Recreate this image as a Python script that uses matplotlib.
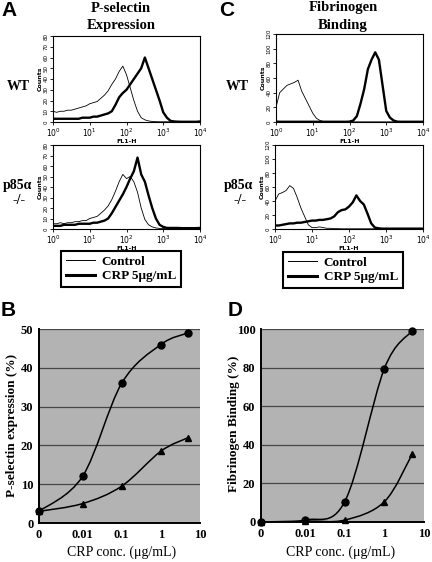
import numpy as np
import matplotlib
matplotlib.use("Agg")
import matplotlib.pyplot as plt
from matplotlib.path import Path
from matplotlib.patches import PathPatch
from matplotlib.lines import Line2D

SERIF = ["Liberation Serif", "DejaVu Serif"]
SANS = ["Liberation Sans", "DejaVu Sans"]

# -----------------------------------
# Flow cytometry histograms (FL1-H, 0.1 decade steps from 10^0 to 10^4)
# -----------------------------------
decades = np.round(np.arange(0, 4.01, 0.1), 1)

a_wt_control = [10, 9, 10, 10, 11, 11, 12, 13, 14, 15, 17,
                18, 19, 22, 25, 29, 35, 40, 47, 52, 44,
                32, 20, 10, 4, 2, 1, 0.5, 0.3, 0.2, 0.2,
                0.2, 0.2, 0.2, 0.2, 0.2, 0.2, 0.2, 0.2, 0.2, 0.2]
a_wt_crp = [3, 3, 3, 3, 3, 3, 3, 3, 4, 4, 4,
            5, 5, 6, 7, 8, 10, 16, 23, 27, 30,
            35, 40, 45, 50, 60, 50, 40, 30, 20, 9,
            4, 1, 0.5, 0.3, 0.2, 0.2, 0.2, 0.2, 0.2, 0.5]
a_ko_control = [5, 5, 6, 5, 6, 6, 7, 7, 8, 8, 10,
                11, 12, 15, 18, 22, 28, 36, 45, 52, 48,
                50, 45, 35, 20, 9, 4, 2, 1, 0.5, 0.5,
                0.3, 0.3, 0.3, 0.3, 0.3, 0.3, 0.3, 0.3, 0.3, 0.3]
a_ko_crp = [3, 3, 3, 4, 4, 4, 4, 5, 5, 5, 5,
            6, 6, 7, 8, 10, 15, 21, 27, 33, 40,
            48, 55, 68, 52, 45, 32, 20, 10, 4, 2,
            1, 1, 1, 1, 0.8, 0.8, 0.8, 0.8, 0.8, 1]

c_wt_control = [20, 40, 45, 50, 52, 54, 57, 42, 32, 22, 12,
                5, 2, 0.5, 0.3, 0.2, 0.2, 0.2, 0.2, 0.2, 0.2,
                0.2, 0.2, 0.2, 0.2, 0.2, 0.2, 0.2, 0.2, 0.2, 0.2,
                0.2, 0.2, 0.2, 0.2, 0.2, 0.2, 0.2, 0.2, 0.2, 0.2]
c_wt_crp = [0.5, 0.3, 0.3, 0.3, 0.3, 0.3, 0.3, 0.3, 0.3, 0.3, 0.3,
            0.3, 0.3, 0.3, 0.3, 0.3, 0.3, 0.3, 0.3, 0.3, 0.5,
            2, 8, 25, 45, 72, 85, 95, 85, 50, 15,
            6, 2, 0.5, 0.3, 0.3, 0.3, 0.3, 0.3, 0.3, 0.3]
c_ko_control = [40, 50, 52, 55, 62, 58, 45, 30, 18, 6, 2,
                2, 3, 2, 1, 1, 0.5, 0.5, 0.3, 0.3, 0.3,
                0.3, 0.3, 0.3, 0.3, 0.3, 0.3, 0.3, 0.3, 0.3, 0.3,
                0.3, 0.3, 0.3, 0.3, 0.3, 0.3, 0.3, 0.3, 0.3, 0.3]
c_ko_crp = [5, 5, 6, 7, 8, 8, 9, 9, 10, 11, 12,
            12, 13, 13, 14, 15, 18, 24, 27, 28, 32,
            38, 48, 40, 35, 22, 8, 2, 1, 0.5, 0.5,
            0.5, 0.5, 0.5, 0.5, 0.5, 0.5, 0.5, 0.5, 0.5, 0.5]

# -----------------------------------
# Dose response (CRP conc. in ug/mL)
# -----------------------------------
crp_conc = [0, 0.01, 0.1, 1, 5]
psel_wt = [3, 12, 36, 46, 49]
psel_ko = [3, 5, 9.5, 18.5, 22]
fib_wt = [0, 1, 10.5, 79.5, 99]
fib_ko = [0, 0.5, 1, 10.5, 35]
conc_ticks = [0, 0.01, 0.1, 1, 10]
conc_labels = ["0", "0.01", "0.1", "1", "10"]

W, H = 432, 562
fig = plt.figure(figsize=(W / 100, H / 100), dpi=100)


def box(left, top, right, bottom):
    return [left / W, 1 - bottom / H, (right - left) / W, (bottom - top) / H]


def fig_text(x, y, s, **kw):
    fig.text(x / W, 1 - y / H, s, ha="center", va="center", **kw)


# -----------------------------------
# Histogram panels
# -----------------------------------
def histogram(rect, control, crp, ymax, ystep):
    ax = fig.add_axes(rect)
    fl1 = 10 ** decades
    ax.plot(fl1, control, color="black", lw=0.6)
    ax.plot(fl1, crp, color="black", lw=1.7)
    ax.set_xscale("log")
    ax.set_xlim(1, 1e4)
    ax.set_ylim(0, ymax)
    ax.set_xticks([1, 10, 100, 1000, 10000])
    ax.set_xticklabels([r"$10^{%d}$" % i for i in range(5)], fontsize=5.5)
    ax.set_yticks(np.arange(0, ymax + 1, ystep))
    for lab in ax.get_yticklabels():
        lab.set_rotation(90)
        lab.set_fontsize(4)
        lab.set_va("center")
    ax.tick_params(axis="both", length=2, width=0.6, pad=1)
    ax.tick_params(axis="x", which="minor", length=1.2, width=0.4)
    ax.set_xlabel("FL1-H", fontsize=4.5, labelpad=0, fontweight="bold")
    ax.set_ylabel("Counts", fontsize=4.5, labelpad=1, fontweight="bold")
    for sp in ax.spines.values():
        sp.set_linewidth(0.8)
    return ax


def legend_box(ax, cx, cy):
    handles = [Line2D([], [], color="black", lw=0.7),
               Line2D([], [], color="black", lw=2.2)]
    leg = ax.legend(handles, ["Control", "CRP 5\u03bcg/mL"],
                    loc="center", bbox_to_anchor=(cx / W, 1 - cy / H),
                    bbox_transform=fig.transFigure, fancybox=False,
                    framealpha=1, edgecolor="black", handlelength=2.2,
                    handletextpad=0.5, borderpad=0.35, labelspacing=0.15,
                    prop={"family": SERIF, "size": 9.5, "weight": "bold"})
    leg.get_frame().set_linewidth(1.5)


ax_a1 = histogram(box(53, 36, 200, 122), a_wt_control, a_wt_crp, 80, 10)
ax_a2 = histogram(box(53, 145, 200, 229), a_ko_control, a_ko_crp, 80, 10)
ax_c1 = histogram(box(276, 34, 423, 122), c_wt_control, c_wt_crp, 120, 20)
ax_c2 = histogram(box(275, 145, 423, 229), c_ko_control, c_ko_crp, 120, 20)
legend_box(ax_a2, 121, 269)
legend_box(ax_c2, 343, 270)


# -----------------------------------
# Smoothed connecting curve (Catmull-Rom as Bezier path)
# -----------------------------------
def smooth_path(ax, x, y):
    t = ax.xaxis.get_transform()
    sx = t.transform(np.reshape(np.asarray(x, float), (-1, 1))).ravel()
    pts = np.column_stack([sx, np.asarray(y, float)])
    ext = np.vstack([pts[0], pts, pts[-1]])
    verts = [pts[0]]
    codes = [Path.MOVETO]
    for i in range(len(pts) - 1):
        p0, p1, p2, p3 = ext[i], ext[i + 1], ext[i + 2], ext[i + 3]
        verts += [p1 + (p2 - p0) / 6, p2 - (p3 - p1) / 6, p2]
        codes += [Path.CURVE4] * 3
    verts = np.array(verts)
    verts[:, 0] = t.inverted().transform(verts[:, :1]).ravel()
    return Path(verts, codes)


def dose_panel(rect, wt, ko, ymax, ystep):
    ax = fig.add_axes(rect)
    ax.set_facecolor("#b3b3b3")
    ax.set_xscale("symlog", linthresh=0.01, linscale=1)
    ax.set_xlim(0, 10)
    ax.set_ylim(0, ymax)
    ax.set_yticks(np.arange(0, ymax + 1, ystep))
    ax.set_xticks(conc_ticks)
    ax.set_xticklabels(conc_labels)
    ax.xaxis.set_minor_locator(matplotlib.ticker.NullLocator())
    for lab in ax.get_xticklabels() + ax.get_yticklabels():
        lab.set_fontfamily(SERIF)
        lab.set_fontweight("bold")
        lab.set_fontsize(9)
    ax.tick_params(length=0, pad=4)
    ax.yaxis.grid(True, color="#474747", lw=0.9)
    ax.set_axisbelow(True)
    ax.spines["top"].set_visible(False)
    ax.spines["right"].set_visible(False)
    ax.spines["left"].set_linewidth(1.4)
    ax.spines["bottom"].set_linewidth(1.4)
    for series, marker, ms in [(wt, "o", 5), (ko, "^", 4.5)]:
        ax.add_patch(PathPatch(smooth_path(ax, crp_conc, series),
                               fill=False, lw=1.1, edgecolor="black"))
        ax.plot(crp_conc, series, ls="none", marker=marker, ms=ms,
                color="black", clip_on=False, zorder=5)
    return ax


ax_b = dose_panel(box(39, 329, 200, 523), psel_wt, psel_ko, 50, 10)
ax_d = dose_panel(box(261, 329, 424, 522), fib_wt, fib_ko, 100, 20)

fig_text(12, 425, "P-selectin expression (%)", rotation=90,
         fontfamily=SERIF, fontweight="bold", fontsize=9.5)
fig_text(234, 424, "Fibrinogen Binding (%)", rotation=90,
         fontfamily=SERIF, fontweight="bold", fontsize=9.5)
for x in (122, 341):
    fig_text(x, 552, "CRP conc. (\u03bcg/mL)", fontfamily=SERIF, fontsize=10)

# -----------------------------------
# Panel letters, titles and row labels
# -----------------------------------
for x, y, s in [(9, 11, "A"), (227, 11, "C"), (8, 310, "B"), (235, 310, "D")]:
    fig_text(x, y, s, fontfamily=SANS, fontweight="bold", fontsize=15)

fig_text(121, 8, "P-selectin", fontfamily=SERIF, fontweight="bold", fontsize=10.5)
fig_text(121, 25, "Expression", fontfamily=SERIF, fontweight="bold", fontsize=10.5)
fig_text(343, 8, "Fibrinogen", fontfamily=SERIF, fontweight="bold", fontsize=10.5)
fig_text(343, 25, "Binding", fontfamily=SERIF, fontweight="bold", fontsize=10.5)

for x in (18, 237):
    fig_text(x, 86, "WT", fontfamily=SERIF, fontweight="bold", fontsize=10)
for x, y in ((18, 186), (239, 186)):
    fig_text(x, y, "p85\u03b1", fontfamily=SERIF, fontweight="bold", fontsize=10)
    fig_text(x + 1, y + 15, "-/-", fontfamily=SERIF, fontweight="bold", fontsize=10)

fig.savefig("out.png", dpi=100)
